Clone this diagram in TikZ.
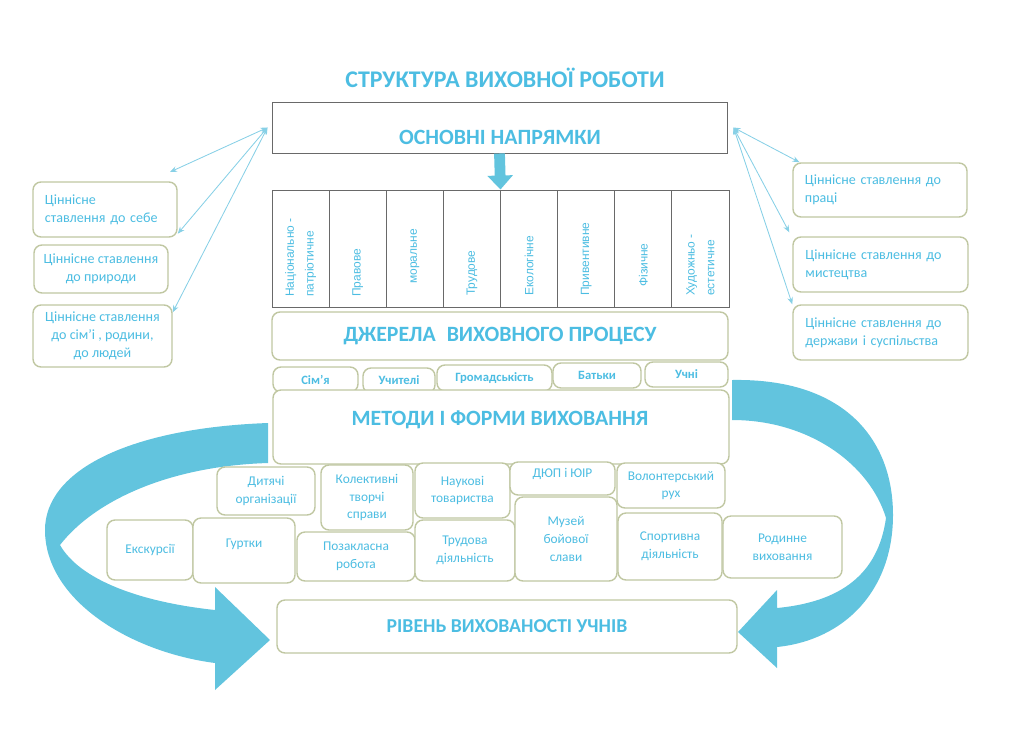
\documentclass[tikz,border=0pt]{standalone}
\usepackage{fontspec}
\setmainfont{Carlito}
\newfontfamily\colfont{Liberation Sans}
\usetikzlibrary{arrows.meta}
\definecolor{txtcyan}{RGB}{76,189,226}
\definecolor{boxline}{RGB}{192,199,162}
\definecolor{gridline}{RGB}{105,105,105}
\definecolor{bandcyan}{RGB}{98,196,222}
\definecolor{linkcyan}{RGB}{135,208,230}
% box from its corners (x1,y1) (x2,y2) in pixels
\newcommand*{\cell}[6]{\node [#1, minimum width={(#4-#2)*0.025cm}, minimum height={(#5-#3)*0.025cm}] (#6) at ({(#2+#4)/2},{(#3+#5)/2})}
\tikzset{
  valbox/.style    = {draw=boxline, line width=1pt, rounded corners=0.2cm, fill=white, inner sep=0pt, text=txtcyan, align=center, font=\fontsize{10}{12.8}\selectfont},
  formbox/.style   = {valbox, font=\fontsize{9.5}{12.5}\selectfont},
  srcbox/.style    = {valbox, font=\bfseries\fontsize{9}{11}\selectfont},
  headbox/.style   = {valbox, font=\bfseries\fontsize{15.5}{18}\selectfont},
  gridbox/.style   = {draw=gridline, line width=0.7pt, fill=white, inner sep=0pt},
  headtext/.style  = {text=txtcyan, font=\bfseries\fontsize{15.5}{18}\selectfont},
  coltext/.style   = {rotate=90, anchor=west, inner sep=0pt, align=left, text=txtcyan, font=\colfont\fontsize{8.5}{14}\selectfont},
  link/.style      = {draw=linkcyan, line width=0.6pt, {Stealth[length=5pt,width=4pt]}-{Stealth[length=5pt,width=4pt]}},
  band/.style      = {fill=bandcyan},
  downarrow/.style = {draw=bandcyan, line width=0.27cm, -{Triangle[length=0.35cm,width=0.62cm]}},
}

\begin{document}
\begin{tikzpicture}[x=0.025cm, y=-0.025cm]
    \useasboundingbox (0,0) rectangle (1024,745);
    % curved ribbons round the forms
    \fill [band] (268,423) .. controls (130,428) and (45,470) .. (45,530) .. controls (45,600) and (130,652) .. (215,663)
        -- (215,690) -- (270,640) -- (215,587) -- (215,610) .. controls (140,602) and (80,580) .. (60,545)
        .. controls (95,500) and (170,466) .. (268,463) -- cycle;
    \fill [band] (732,380) .. controls (845,378) and (893,440) .. (893,515) .. controls (893,590) and (845,640) .. (777,647)
        -- (777,668) -- (738,632) -- (777,590) -- (777,608) .. controls (840,602) and (878,575) .. (886,518)
        .. controls (870,465) and (810,420) .. (732,420) -- cycle;

    \node [text=txtcyan, font=\bfseries\fontsize{17}{20}\selectfont] (title) at (505,78) {СТРУКТУРА ВИХОВНОЇ РОБОТИ};

    \cell{gridbox}{272}{102}{727}{153}{osn} {};
    \node [headtext] (osntxt) at (500,137) {ОСНОВНІ НАПРЯМКИ};

    % table of directions
    \cell{gridbox}{272}{190}{729}{307}{tbl} {};
    \foreach \i in {1,...,7}
        \draw [gridline, line width=0.7pt] ({272+57.125*\i},190) -- ({272+57.125*\i},307);
    \foreach \txt/\ybot [count=\i] in {{Національно -\\патріотичне}/297, Правове/297, моральне/284, Трудове/296,
                                      Екологічне/296, Привентивне/296, Фізичне/287, {Художньо -\\естетичне}/296}
        \node [coltext] (dir\i) at ({272+57.125*(\i-0.5)},\ybot) {\txt};
    \draw [downarrow] (osn.south) -- (tbl.north);

    % values
    \cell{valbox, text width=3.0cm, align=left}{33}{182}{177}{237}{valself} {Ціннісне\\ставлення до себе};
    \cell{valbox}{34}{245}{168}{293}{valnature} {Ціннісне ставлення\\до природи};
    \cell{valbox}{33}{305}{172}{367}{valfamily} {Ціннісне ставлення\\до сім’і , родини,\\до людей};
    \cell{valbox, text width=3.75cm, align=left}{793}{163}{967}{217}{valwork} {Ціннісне ставлення до\\праці};
    \cell{valbox, text width=3.75cm, align=left}{793}{237}{968}{292}{valart} {Ціннісне ставлення до\\мистецтва};
    \cell{valbox, text width=3.75cm, align=left}{793}{305}{968}{360}{valstate} {Ціннісне ставлення до\\держави і суспільства};

    \coordinate (lhub) at ([xshift=-0.1cm]osn.west);
    \coordinate (rhub) at ([xshift=0.15cm]osn.east);
    \coordinate (lfree) at (170,172);
    \draw [link] (lhub) -- (lfree);
    \draw [link] (lhub) -- ([yshift=0.1cm]valself.south east);
    \draw [link] (lhub) -- ([yshift=-0.2cm]valfamily.north east);
    \draw [link] (rhub) -- ([xshift=0.18cm]valwork.north west);
    \draw [link] (rhub) -- ([shift={(-3,-4)}]valart.north west);
    \draw [link] (rhub) -- (valstate.north west);

    % sources
    \cell{headbox}{272}{312}{728}{360}{src} {ДЖЕРЕЛА\enspace ВИХОВНОГО ПРОЦЕСУ};
    \cell{srcbox}{273}{367}{358}{392}{srcfam} {Сім’я};
    \cell{srcbox}{363}{368}{435}{393}{srcteach} {Учителі};
    \cell{srcbox}{437}{365}{552}{391}{srccomm} {Громадськість};
    \cell{srcbox}{553}{363}{641}{388}{srcpar} {Батьки};
    \cell{srcbox}{645}{362}{728}{387}{srcpup} {Учні};

    % methods and forms
    \cell{valbox}{273}{390}{729}{464}{meth} {};
    \node [headtext] (methtxt) at (500,420) {МЕТОДИ І ФОРМИ ВИХОВАННЯ};
    \cell{formbox}{217}{467}{315}{515}{dytorg} {Дитячі\\організації};
    \cell{formbox}{321}{465}{413}{530}{kts} {Колективні\\творчі\\справи};
    \cell{formbox}{415}{463}{510}{518}{nauk} {Наукові\\товариства};
    \cell{formbox}{510}{462}{615}{495}{dyup} {\raisebox{8pt}{ДЮП і ЮІР}};
    \cell{formbox}{617}{463}{725}{508}{volont} {Волонтерський\\рух};
    \cell{formbox}{107}{520}{193}{580}{excurs} {Екскурсії};
    \cell{formbox}{193}{518}{295}{583}{gurt} {\raisebox{10pt}{Гуртки}};
    \cell{formbox}{297}{532}{415}{581}{pozakl} {Позакласна\\робота};
    \cell{formbox}{415}{520}{515}{581}{trud} {Трудова\\діяльність};
    \cell{formbox}{515}{497}{617}{581}{muzey} {Музей\\бойової\\слави};
    \cell{formbox}{618}{513}{722}{580}{sport} {Спортивна\\діяльність};
    \cell{formbox}{723}{516}{842}{578}{rodyn} {Родинне\\виховання};

    \cell{headbox, font=\bfseries\fontsize{14}{17}\selectfont}{277}{600}{737}{653}{level} {РІВЕНЬ ВИХОВАНОСТІ УЧНІВ};
\end{tikzpicture}
\end{document}
